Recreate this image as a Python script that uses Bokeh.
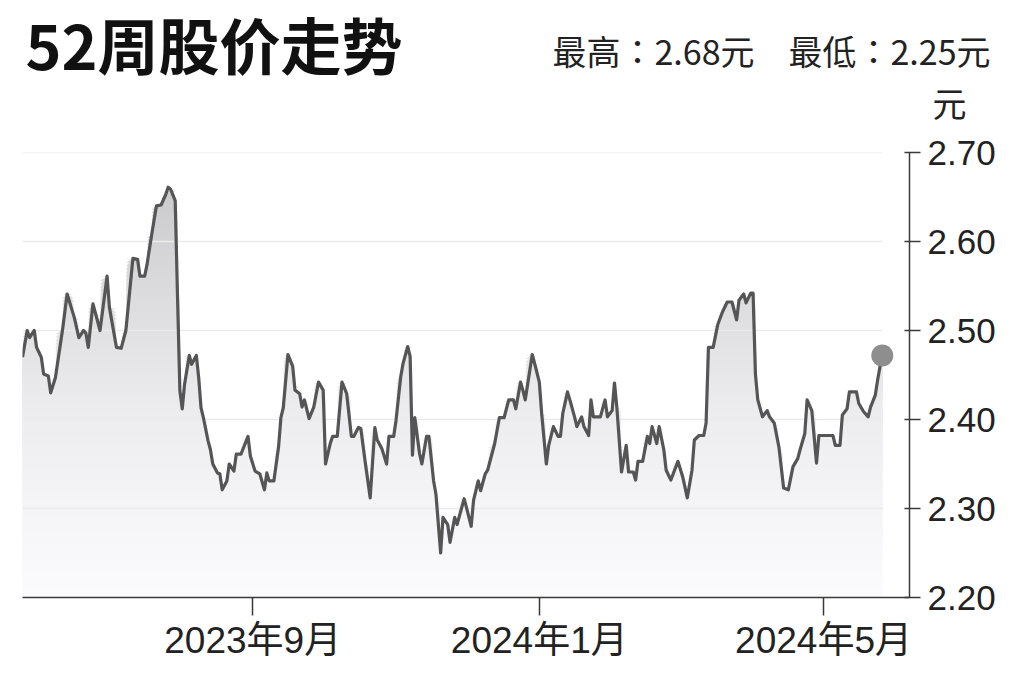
import numpy as np
import pandas as pd
from bokeh.plotting import figure
from bokeh.models import FixedTicker, Label, Range1d
from bokeh.embed import file_html
from bokeh.resources import INLINE

# ---------------- data ----------------
START = "2023-05-26"
END_VIEW = "2024-06-06 14:00"

trading_day = [
    0, 2, 3, 5, 6, 8, 9, 11, 12, 14, 17, 19, 22, 24, 26, 27, 28, 30, 31, 33,
    36, 37, 40, 42, 44, 47, 49, 50, 52, 53, 55, 57, 59, 61, 62, 63, 65, 66, 67, 68,
    69, 71, 72, 74, 75, 76, 77, 79, 80, 81, 83, 84, 85, 87, 88, 90, 91, 93, 96, 97,
    99, 101, 103, 104, 105, 107, 109, 110, 111, 113, 115, 116, 118, 119, 120, 122, 124, 126, 128, 129,
    131, 132, 134, 136, 138, 140, 141, 143, 144, 146, 148, 150, 151, 153, 155, 156, 158, 159, 161, 162,
    164, 165, 166, 167, 169, 170, 172, 173, 175, 176, 178, 179, 181, 182, 184, 185, 188, 189, 191, 192,
    194, 195, 197, 198, 201, 203, 205, 207, 209, 210, 212, 213, 214, 217, 218, 220, 221, 223, 224, 226,
    228, 229, 230, 232, 233, 235, 236, 238, 239, 241, 242, 243, 246, 248, 249, 251, 252, 253, 255, 257,
    258, 260, 261, 262, 264, 266, 267, 268, 270, 271, 273, 274, 276, 279, 281, 283, 285, 286, 288, 290,
    291, 292, 294, 296, 298, 300, 302, 304, 305, 307, 308, 310, 311, 312, 313, 315, 317, 318, 320, 322,
    324, 326, 328, 330, 331, 333, 334, 336, 338, 339, 341, 345, 346, 348, 349, 351, 352, 355, 356, 358,
    360, 361, 363, 364, 365, 366,
]

price = [
    2.470, 2.500, 2.492, 2.500, 2.481, 2.470, 2.451, 2.449, 2.430, 2.447, 2.500, 2.541, 2.515, 2.492, 2.500, 2.497, 2.481, 2.530, 2.520, 2.500,
    2.561, 2.526, 2.481, 2.480, 2.500, 2.581, 2.580, 2.561, 2.561, 2.574, 2.608, 2.640, 2.641, 2.653, 2.661, 2.659, 2.646, 2.537, 2.432, 2.412,
    2.440, 2.472, 2.462, 2.472, 2.447, 2.413, 2.402, 2.376, 2.366, 2.350, 2.340, 2.339, 2.321, 2.331, 2.350, 2.342, 2.361, 2.361, 2.381, 2.359,
    2.342, 2.339, 2.321, 2.340, 2.331, 2.331, 2.369, 2.402, 2.413, 2.473, 2.460, 2.433, 2.429, 2.414, 2.422, 2.401, 2.414, 2.442, 2.433, 2.350,
    2.373, 2.381, 2.381, 2.442, 2.429, 2.381, 2.381, 2.391, 2.390, 2.350, 2.312, 2.391, 2.377, 2.367, 2.350, 2.381, 2.381, 2.399, 2.448, 2.463,
    2.482, 2.471, 2.360, 2.402, 2.362, 2.350, 2.381, 2.381, 2.331, 2.316, 2.250, 2.290, 2.282, 2.262, 2.290, 2.282, 2.311, 2.301, 2.280, 2.309,
    2.331, 2.320, 2.339, 2.343, 2.373, 2.402, 2.402, 2.422, 2.422, 2.412, 2.442, 2.433, 2.422, 2.473, 2.463, 2.442, 2.407, 2.350, 2.371, 2.392,
    2.381, 2.381, 2.407, 2.431, 2.422, 2.403, 2.392, 2.403, 2.392, 2.382, 2.422, 2.403, 2.403, 2.422, 2.403, 2.410, 2.441, 2.414, 2.341, 2.371,
    2.341, 2.341, 2.332, 2.353, 2.353, 2.381, 2.373, 2.392, 2.373, 2.392, 2.366, 2.343, 2.332, 2.353, 2.336, 2.312, 2.343, 2.377, 2.382, 2.382,
    2.396, 2.481, 2.481, 2.507, 2.521, 2.532, 2.532, 2.512, 2.534, 2.541, 2.531, 2.542, 2.542, 2.451, 2.422, 2.403, 2.410, 2.403, 2.396, 2.369,
    2.323, 2.321, 2.347, 2.356, 2.366, 2.384, 2.422, 2.410, 2.351, 2.382, 2.382, 2.382, 2.371, 2.371, 2.405, 2.412, 2.431, 2.431, 2.418, 2.409,
    2.403, 2.414, 2.427, 2.444, 2.459, 2.472,
]

y_ticks = [2.20, 2.30, 2.40, 2.50, 2.60, 2.70]
y_tick_labels = ["2.20", "2.30", "2.40", "2.50", "2.60", "2.70"]
grid_levels = [2.30, 2.40, 2.50, 2.60, 2.70]
x_tick_dates = ["2023-09-01", "2024-01-01", "2024-05-01"]
x_tick_labels = ["2023年9月", "2024年1月", "2024年5月"]

title_text = "52周股价走势"
high_text = "最高：2.68元"
low_text = "最低：2.25元"
unit_text = "元"

# ---------------- build ----------------
dates = pd.Timestamp(START) + pd.to_timedelta(trading_day, unit="D")
price_arr = np.array(price)

LATIN = "'Liberation Sans', 'Noto Sans CJK SC', sans-serif"
CJK = "'Noto Sans CJK SC', sans-serif"
CJK_TC = "'Noto Sans CJK TC', sans-serif"

W = 1008
HEADER_H = 132
MAIN_H = 534

# ---- header strip (title, high / low, unit) ----
hdr = figure(width=W, height=HEADER_H, x_range=Range1d(0, W), y_range=Range1d(HEADER_H, 0),
             x_axis_type=None, y_axis_type=None, min_border=0,
             output_backend="svg", toolbar_location=None)
hdr.outline_line_color = None
hdr.xgrid.visible = False
hdr.ygrid.visible = False
hdr.add_layout(Label(x=25, y=43, text=title_text, text_font=CJK, text_font_style="bold",
                     text_font_size="61px", text_color="#111111",
                     text_align="left", text_baseline="middle"))
hdr.add_layout(Label(x=552, y=49.5, text=high_text, text_font=CJK_TC, text_font_size="34px",
                     text_color="#222222", text_align="left", text_baseline="middle"))
hdr.add_layout(Label(x=788, y=49.5, text=low_text, text_font=CJK_TC, text_font_size="34px",
                     text_color="#222222", text_align="left", text_baseline="middle"))
hdr.add_layout(Label(x=932, y=102, text=unit_text, text_font=CJK, text_font_size="34px",
                     text_color="#222222", text_align="left", text_baseline="middle"))

# ---- main chart ----
p = figure(
    width=W, height=MAIN_H,
    x_axis_type="datetime",
    x_range=Range1d(pd.Timestamp(START), pd.Timestamp(END_VIEW)),
    y_range=Range1d(y_ticks[0], y_ticks[-1]),
    y_axis_location="right",
    output_backend="svg", toolbar_location=None,
    min_border_left=22, min_border_right=99,
    min_border_top=20, min_border_bottom=69,
)
p.outline_line_color = None
p.xgrid.visible = False
p.ygrid.visible = False

# gradient fill under the line (layered bands, darker toward the top)
stop_v = [2.20, 2.30, 2.40, 2.50, 2.60, 2.70]
stop_g = [251, 245, 237, 225, 211, 195]
levels = np.round(np.arange(2.20, 2.70, 0.004), 4)
for lo in levels:
    g = int(round(np.interp(lo, stop_v, stop_g)))
    col = "#%02x%02x%02x" % (g, g, min(255, g + 2))
    top = np.maximum(price_arr, lo)
    p.varea(x=dates, y1=lo, y2=top, fill_color=col, fill_alpha=1.0)

# gridlines limited to the data span
p.segment(x0=[dates[0]] * len(grid_levels), x1=[dates[-1]] * len(grid_levels),
          y0=grid_levels, y1=grid_levels, line_color="#ebebeb", line_width=1.5)

# price line and end marker
p.line(dates, price_arr, line_color="#555555", line_width=3.2, line_join="round")
p.scatter([dates[-1]], [price_arr[-1]], size=22, fill_color="#8e8e8e", line_color=None)

# right (y) axis
ya = p.yaxis[0]
ya.ticker = FixedTicker(ticks=y_ticks)
ya.major_label_overrides = {t: s for t, s in zip(y_ticks, y_tick_labels)}
ya.axis_line_color = "#3a3a3a"
ya.axis_line_width = 1.5
ya.major_tick_line_color = "#3a3a3a"
ya.major_tick_line_width = 1.5
ya.major_tick_in = 5
ya.major_tick_out = 11
ya.minor_tick_line_color = None
ya.major_label_standoff = 7
ya.major_label_text_font = LATIN
ya.major_label_text_font_size = "35px"
ya.major_label_text_color = "#222222"

# bottom (x) axis
x_ms = [float(pd.Timestamp(d).value // 10**6) for d in x_tick_dates]
xa = p.xaxis[0]
xa.ticker = FixedTicker(ticks=x_ms)
xa.major_label_overrides = {t: s for t, s in zip(x_ms, x_tick_labels)}
xa.axis_line_color = "#3a3a3a"
xa.axis_line_width = 1.5
xa.major_tick_line_color = "#3a3a3a"
xa.major_tick_line_width = 1.5
xa.major_tick_in = 0
xa.major_tick_out = 18
xa.minor_tick_line_color = None
xa.major_label_standoff = 4
xa.major_label_text_font = LATIN
xa.major_label_text_font_size = "37px"
xa.major_label_text_color = "#222222"

open("out.html", "w").write(file_html([hdr, p], INLINE))
